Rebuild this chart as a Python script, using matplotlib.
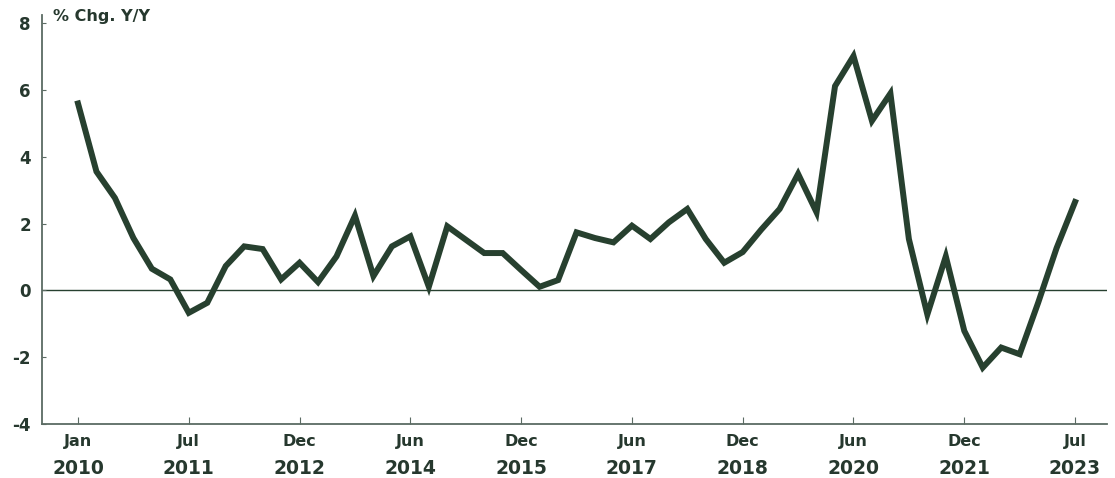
import matplotlib
matplotlib.use("Agg")
import matplotlib.pyplot as plt
import matplotlib.transforms as mtransforms
import numpy as np

# quarterly % chg y/y, Jan 2010 .. Jul 2023
values = [5.60, 3.56, 2.77, 1.57, 0.65, 0.33, -0.67, -0.37, 0.73, 1.32,
          1.24, 0.33, 0.83, 0.25, 1.02, 2.24, 0.43, 1.32, 1.62, 0.11,
          1.92, 1.52, 1.12, 1.12, 0.61, 0.11, 0.31, 1.74, 1.57, 1.44,
          1.94, 1.54, 2.04, 2.44, 1.54, 0.83, 1.15, 1.82, 2.44, 3.49,
          2.34, 6.12, 7.02, 5.08, 5.90, 1.54, -0.72, 1.02, -1.21, -2.31,
          -1.71, -1.91, -0.37, 1.27, 2.65]
tick_pos = [0, 6, 12, 18, 24, 30, 36, 42, 48, 54]
tick_months = ["Jan", "Jul", "Dec", "Jun", "Dec", "Jun", "Dec", "Jun", "Dec", "Jul"]
tick_years = ["2010", "2011", "2012", "2014", "2015", "2017", "2018", "2020", "2021", "2023"]
y_ticks = [-4, -2, 0, 2, 4, 6, 8]

line_color = "#27402f"
text_color = "#26382e"
spine_color = "#5b6b63"

plt.rcParams["font.family"] = "DejaVu Sans"
fig = plt.figure(figsize=(11.15, 4.78), dpi=100)
ax = fig.add_axes([42 / 1115, 1 - 424 / 478, (1107 - 42) / 1115, (424 - 15) / 478])

x = np.arange(len(values))
ax.axhline(0, color=line_color, lw=1.0, zorder=1)
ax.plot(x, values, color=line_color, lw=4.3, solid_joinstyle="miter", zorder=2)

ax.set_xlim(-1.95, 55.73)
ax.set_ylim(-4, 8.25)

for s in ["top", "right"]:
    ax.spines[s].set_visible(False)
for s in ["left", "bottom"]:
    ax.spines[s].set_color(spine_color)
    ax.spines[s].set_linewidth(1.3)

ax.set_yticks(y_ticks)
ax.set_yticklabels([str(v) for v in y_ticks], fontsize=12, fontweight="bold",
                   color=text_color)
ax.tick_params(axis="y", direction="in", length=3, color=spine_color, pad=8)

ax.set_xticks(tick_pos)
ax.set_xticklabels(tick_months, fontsize=11.5, fontweight="bold", color=text_color)
ax.tick_params(axis="x", direction="in", length=5, color=spine_color, pad=7)

trans = mtransforms.blended_transform_factory(ax.transData, fig.transFigure)
for p, yr in zip(tick_pos, tick_years):
    ax.text(p, 1 - 468 / 478, yr, transform=trans, ha="center", va="center",
            fontsize=13.5, fontweight="bold", color=text_color)

fig.text(53 / 1115, 1 - 17 / 478, "% Chg. Y/Y", ha="left", va="center",
         fontsize=11.5, fontweight="bold", color=text_color)

fig.savefig("out.png", dpi=100, facecolor="white")
